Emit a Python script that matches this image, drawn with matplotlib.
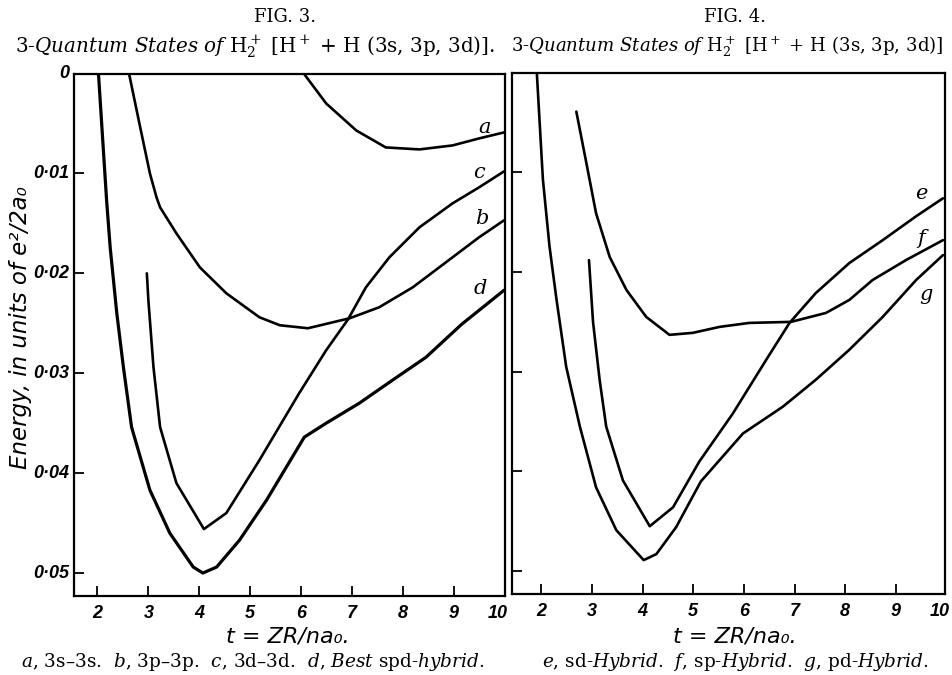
import matplotlib
matplotlib.use('Agg')
import matplotlib.pyplot as plt

plt.rcParams['mathtext.fontset'] = 'dejavuserif'

# Fig. 3 curves (t = ZR/na0, energy below zero in units of e^2/2a0)
a_t = [6.05, 6.49, 7.08, 7.66, 8.32, 8.97, 9.49, 9.98]
a_e = [0.0, 0.0030, 0.0057, 0.0074, 0.0076, 0.0072, 0.0065, 0.0059]
b_t = [2.62, 2.84, 3.03, 3.16, 3.23, 3.55, 4.01, 4.53, 5.18, 5.58, 6.13, 6.95, 7.53, 8.19, 8.84, 9.49, 9.98]
b_e = [0.0, 0.0054, 0.0100, 0.0124, 0.0134, 0.0160, 0.0194, 0.0220, 0.0244, 0.0252, 0.0255, 0.0245, 0.0234, 0.0214, 0.0189, 0.0164, 0.0147]
c_t = [2.97, 3.00, 3.10, 3.23, 3.55, 4.09, 4.53, 5.18, 5.96, 6.49, 6.92, 7.27, 7.73, 8.32, 8.97, 9.49, 9.98]
c_e = [0.0200, 0.0227, 0.0294, 0.0354, 0.0410, 0.0456, 0.0440, 0.0387, 0.0320, 0.0277, 0.0246, 0.0214, 0.0184, 0.0154, 0.0130, 0.0114, 0.0098]
d_t = [2.02, 2.18, 2.25, 2.38, 2.51, 2.67, 3.03, 3.42, 3.88, 4.07, 4.34, 4.79, 5.32, 6.06, 6.49, 7.14, 7.79, 8.45, 9.15, 9.98]
d_e = [0.0, 0.0127, 0.0174, 0.0240, 0.0294, 0.0354, 0.0417, 0.0460, 0.0494, 0.0500, 0.0494, 0.0467, 0.0427, 0.0364, 0.0350, 0.0330, 0.0307, 0.0284, 0.0251, 0.0217]

# Fig. 4 curves
e_t = [2.94, 3.02, 3.15, 3.28, 3.61, 4.14, 4.60, 5.12, 5.78, 6.44, 6.90, 7.42, 8.08, 8.74, 9.40, 9.93]
e_e = [0.0188, 0.0250, 0.0308, 0.0355, 0.0409, 0.0455, 0.0436, 0.0390, 0.0342, 0.0288, 0.0251, 0.0221, 0.0191, 0.0168, 0.0144, 0.0126]
f_t = [2.69, 2.89, 3.08, 3.35, 3.68, 4.07, 4.53, 4.99, 5.52, 6.11, 6.93, 7.62, 8.08, 8.54, 9.20, 9.93]
f_e = [0.0039, 0.0091, 0.0141, 0.0185, 0.0218, 0.0245, 0.0263, 0.0261, 0.0255, 0.0251, 0.0250, 0.0241, 0.0228, 0.0208, 0.0188, 0.0168]
g_t = [1.91, 2.03, 2.16, 2.30, 2.49, 2.76, 3.08, 3.48, 4.02, 4.27, 4.66, 5.15, 5.98, 6.77, 7.42, 8.08, 8.74, 9.40, 9.93]
g_e = [0.0, 0.0107, 0.0174, 0.0228, 0.0295, 0.0355, 0.0416, 0.0459, 0.0489, 0.0483, 0.0456, 0.0410, 0.0362, 0.0335, 0.0308, 0.0278, 0.0245, 0.0208, 0.0183]

x_ticks = [2, 3, 4, 5, 6, 7, 8, 9]
x_label_pos = [2, 3, 4, 5, 6, 7, 8, 9, 9.86]
x_labels = ['2', '3', '4', '5', '6', '7', '8', '9', '10']
y_ticks = [0.01, 0.02, 0.03, 0.04, 0.05]
y_labels = ['0', '0·01', '0·02', '0·03', '0·04', '0·05']

tick_font = dict(family='Liberation Sans', style='italic', weight='bold', size=13)
curve_font = dict(family='DejaVu Serif', style='italic', size=15)
serif = dict(family='DejaVu Serif')

fig = plt.figure(figsize=(9.53, 6.75), dpi=100)
W, H = 953.0, 675.0


def px(x, y):
    return x / W, 1 - y / H


ax1 = fig.add_axes([74 / W, 1 - 596 / H, 431 / W, 522.5 / H])
ax2 = fig.add_axes([512 / W, 1 - 594 / H, 433 / W, 521.3 / H])

for ax in (ax1, ax2):
    ax.set_ylim(0.0523, 0.0)
    for s in ax.spines.values():
        s.set_linewidth(1.6)
    ax.set_yticks(y_ticks)
    ax.set_xticks(x_ticks)
    ax.tick_params(direction='in', length=7.5, width=1.3)
    ax.set_xticklabels([])
    ax.set_yticklabels([])

ax1.set_xlim(1.54, 10.0)
ax2.set_xlim(1.42, 9.97)

line = dict(color='black', lw=1.9, solid_joinstyle='round', solid_capstyle='round')
ax1.plot(a_t, a_e, **line)
ax1.plot(b_t, b_e, **line)
ax1.plot(c_t, c_e, **line)
ax1.plot(d_t, d_e, **dict(line, lw=2.3))

ax2.plot(e_t, e_e, **line)
ax2.plot(f_t, f_e, **line)
ax2.plot(g_t, g_e, **line)

# curve letters
ax1.text(9.59, 0.0054, 'a', ha='center', va='center', **curve_font)
ax1.text(9.49, 0.0099, 'c', ha='center', va='center', **curve_font)
ax1.text(9.55, 0.0145, 'b', ha='center', va='center', **curve_font)
ax1.text(9.52, 0.0215, 'd', ha='center', va='center', **curve_font)
ax2.text(9.50, 0.0121, 'e', ha='center', va='center', **curve_font)
ax2.text(9.50, 0.0166, 'f', ha='center', va='center', **curve_font)
ax2.text(9.59, 0.0223, 'g', ha='center', va='center', **curve_font)

# tick labels
for ax in (ax1, ax2):
    for xp, lab in zip(x_label_pos, x_labels):
        ax.text(xp, -0.034, lab, transform=ax.get_xaxis_transform(),
                ha='center', va='center', **tick_font)
for i, lab in enumerate(y_labels):
    yv = 0.0 if i == 0 else y_ticks[i - 1]
    ax1.text(-0.012, yv, lab, transform=ax1.get_yaxis_transform(),
             ha='right', va='center', **tick_font)

# titles and captions
fig.text(*px(285, 17), 'FIG. 3.', ha='center', va='center', size=13, **serif)
fig.text(*px(735, 17), 'FIG. 4.', ha='center', va='center', size=13, **serif)
title = r'3-$\mathit{Quantum\ States\ of}$ H$_2^+$ [H$^+$ + H (3s, 3p, 3d)]'
fig.text(*px(255, 47), title + '.', ha='center', va='center', size=14.3, **serif)
fig.text(*px(511, 47), title, ha='left', va='center', size=13.1, **serif)

fig.text(*px(21, 328), 'Energy, in units of e²/2a₀', rotation=90, ha='center', va='center',
         family='DejaVu Sans', style='italic', size=16.5)
fig.text(*px(288, 637), 't = ZR/na₀.', ha='center', va='center',
         family='DejaVu Sans', style='italic', size=16)
fig.text(*px(735, 637), 't = ZR/na₀.', ha='center', va='center',
         family='DejaVu Sans', style='italic', size=16)

cap1 = (r'$\mathit{a}$, 3s–3s.  $\mathit{b}$, 3p–3p.  $\mathit{c}$, 3d–3d.  '
        r'$\mathit{d}$, $\mathit{Best}$ spd-$\mathit{hybrid}$.')
cap2 = r'$\mathit{e}$, sd-$\mathit{Hybrid}$.  $\mathit{f}$, sp-$\mathit{Hybrid}$.  $\mathit{g}$, pd-$\mathit{Hybrid}$.'
fig.text(*px(253, 662), cap1, ha='center', va='center', size=13.3, **serif)
fig.text(*px(735, 662), cap2, ha='center', va='center', size=13.3, **serif)

fig.savefig('out.png', dpi=100, facecolor='white')
